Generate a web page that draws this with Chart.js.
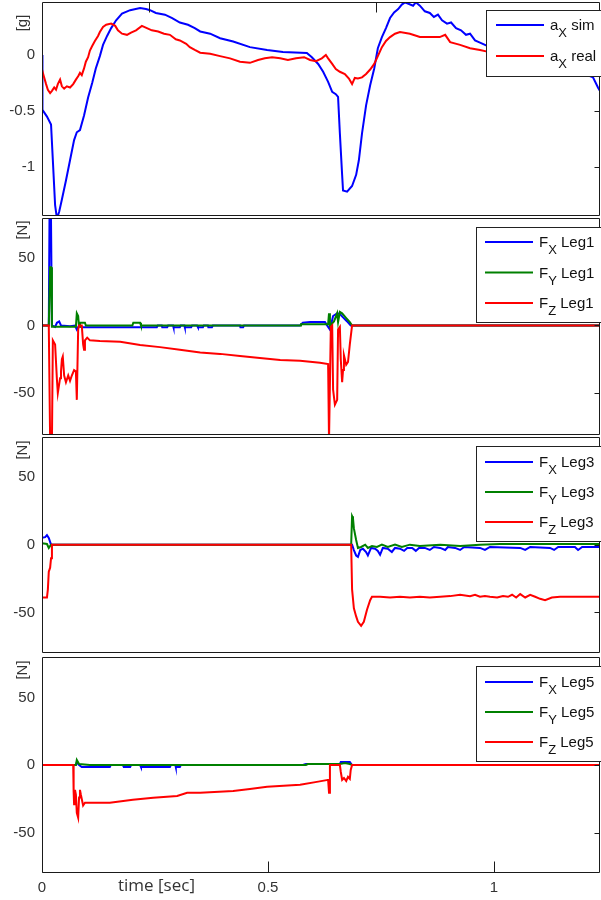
<!DOCTYPE html>
<html>
<head>
<meta charset="utf-8">
<script src="https://cdn.jsdelivr.net/npm/chart.js@4.4.1/dist/chart.umd.min.js"></script>
<style>
html, body { margin: 0; padding: 0; background: #fff; }
#wrap { position: relative; width: 601px; height: 900px; overflow: hidden; }
.pane { position: absolute; left: 0; width: 601px; }
canvas { display: block; }
</style>
</head>
<body>
<div id="wrap">
  <div class="pane" style="top:0px"><canvas id="c1" width="601" height="217"></canvas></div>
  <div class="pane" style="top:217px"><canvas id="c2" width="601" height="219"></canvas></div>
  <div class="pane" style="top:436px"><canvas id="c3" width="601" height="219"></canvas></div>
  <div class="pane" style="top:655px"><canvas id="c4" width="601" height="245"></canvas></div>
</div>
<script>
// time axis [sec]
const xMax = 1.2345;
const xTicks = [0, 0.5, 1];
const topTicks1 = [0.237, 0.738];

// y ticks per panel
const yTicksAcc = [-1, -0.5, 0];
const yTicksForce = [-50, 0, 50];

// panel 1: acceleration [g]
const axSim = [[0,0],[0.001,-0.49],[0.011,-0.55],[0.020,-0.62],[0.024,-0.94],[0.029,-1.34],[0.033,-1.46],[0.038,-1.40],[0.044,-1.29],[0.053,-1.12],[0.062,-0.94],[0.071,-0.76],[0.077,-0.69],[0.084,-0.67],[0.093,-0.54],[0.102,-0.38],[0.111,-0.25],[0.119,-0.12],[0.128,-0.01],[0.135,0.09],[0.144,0.17],[0.153,0.24],[0.164,0.31],[0.177,0.37],[0.195,0.40],[0.217,0.42],[0.230,0.41],[0.239,0.40],[0.252,0.375],[0.272,0.36],[0.288,0.33],[0.305,0.29],[0.323,0.27],[0.338,0.24],[0.350,0.21],[0.372,0.19],[0.394,0.15],[0.423,0.12],[0.460,0.07],[0.498,0.045],[0.533,0.027],[0.586,0.018],[0.597,-0.02],[0.611,-0.08],[0.622,-0.15],[0.633,-0.24],[0.642,-0.33],[0.650,-0.35],[0.655,-0.375],[0.659,-0.70],[0.664,-1.07],[0.666,-1.21],[0.675,-1.22],[0.686,-1.17],[0.695,-1.07],[0.701,-0.94],[0.708,-0.70],[0.717,-0.45],[0.726,-0.27],[0.735,-0.12],[0.743,0.06],[0.752,0.16],[0.761,0.24],[0.770,0.33],[0.779,0.38],[0.788,0.41],[0.796,0.45],[0.803,0.47],[0.812,0.455],[0.821,0.44],[0.827,0.47],[0.836,0.44],[0.847,0.39],[0.858,0.375],[0.867,0.34],[0.876,0.36],[0.885,0.31],[0.896,0.28],[0.905,0.29],[0.916,0.24],[0.927,0.22],[0.938,0.18],[0.947,0.19],[0.958,0.13],[0.969,0.11],[0.980,0.09],[1.013,0.03],[1.058,-0.03],[1.102,-0.045],[1.168,-0.12],[1.219,-0.20],[1.230,-0.29],[1.237,-0.34]];
const axReal = [[0,-0.13],[0.004,-0.19],[0.009,-0.26],[0.013,-0.31],[0.018,-0.34],[0.022,-0.32],[0.027,-0.29],[0.031,-0.31],[0.035,-0.26],[0.040,-0.22],[0.044,-0.28],[0.049,-0.30],[0.055,-0.28],[0.062,-0.29],[0.069,-0.26],[0.075,-0.22],[0.080,-0.19],[0.084,-0.16],[0.088,-0.18],[0.093,-0.12],[0.097,-0.06],[0.102,-0.02],[0.106,0.04],[0.111,0.08],[0.117,0.125],[0.124,0.17],[0.128,0.205],[0.135,0.25],[0.142,0.27],[0.153,0.28],[0.162,0.26],[0.168,0.22],[0.177,0.19],[0.188,0.18],[0.197,0.20],[0.208,0.22],[0.221,0.26],[0.232,0.24],[0.243,0.22],[0.257,0.21],[0.270,0.19],[0.283,0.18],[0.296,0.14],[0.305,0.13],[0.319,0.10],[0.327,0.07],[0.338,0.045],[0.350,0.02],[0.372,0.01],[0.394,-0.01],[0.416,-0.03],[0.438,-0.06],[0.460,-0.07],[0.478,-0.045],[0.493,-0.03],[0.509,-0.02],[0.527,-0.03],[0.544,-0.045],[0.562,-0.03],[0.580,-0.02],[0.593,-0.045],[0.606,-0.055],[0.619,-0.03],[0.628,0],[0.633,-0.03],[0.642,-0.08],[0.650,-0.125],[0.659,-0.15],[0.670,-0.17],[0.679,-0.21],[0.686,-0.26],[0.692,-0.205],[0.699,-0.21],[0.708,-0.20],[0.717,-0.17],[0.726,-0.13],[0.735,-0.08],[0.743,-0.01],[0.752,0.07],[0.761,0.125],[0.770,0.16],[0.781,0.19],[0.792,0.205],[0.814,0.19],[0.836,0.16],[0.858,0.16],[0.880,0.16],[0.892,0.18],[0.903,0.115],[0.925,0.09],[0.947,0.06],[0.969,0.045],[0.985,0.03],[1.058,-0.01],[1.146,-0.045],[1.237,-0.08]];

// panel 2: Leg1 forces [N]
const fxLeg1 = [[0,0],[0.015,0],[0.018,150],[0.022,0],[0.029,-1],[0.033,2],[0.038,3],[0.042,0],[0.062,-0.5],[0.073,0],[0.077,-3],[0.082,0],[0.088,-1.3],[0.254,-1.3],[0.256,0],[0.265,0],[0.266,-1.3],[0.277,-1.3],[0.279,0],[0.290,0],[0.291,-1.3],[0.305,-1.3],[0.307,0],[0.315,0],[0.316,-1.3],[0.330,-1.3],[0.332,0],[0.343,0],[0.345,-1.3],[0.356,-1.3],[0.358,0],[0.367,0],[0.368,-1.3],[0.376,-1.3],[0.378,0],[0.438,0],[0.439,-1.3],[0.445,-1.3],[0.447,0],[0.571,0],[0.577,2],[0.593,2.5],[0.626,2.5],[0.633,-1],[0.637,-3],[0.644,7],[0.653,9],[0.659,8.5],[0.666,6],[0.675,3],[0.683,0],[1.237,0]];
const fyLeg1 = [[0,0],[0.015,0],[0.018,43],[0.020,43],[0.022,-1],[0.075,-1],[0.077,9],[0.080,7],[0.082,-1],[0.084,2],[0.095,2],[0.097,0],[0.200,0],[0.202,2],[0.217,2],[0.219,0],[0.571,0],[0.573,1],[0.633,1],[0.635,9],[0.637,0],[0.646,3],[0.653,9],[0.655,2.5],[0.659,10],[0.664,9],[0.673,5.5],[0.681,2.5],[0.686,0],[1.237,0]];
const fzLeg1 = [[0,0],[0.015,0],[0.018,-85],[0.022,-85],[0.024,-11],[0.029,-14],[0.033,-40],[0.035,-50],[0.040,-39],[0.042,-34],[0.044,-25],[0.046,-23],[0.049,-37],[0.053,-42],[0.058,-37],[0.062,-41],[0.066,-37],[0.071,-33],[0.075,-34],[0.077,-55],[0.080,-3],[0.082,0],[0.088,0],[0.091,-14],[0.093,-18],[0.095,-11],[0.100,-9],[0.106,-11],[0.128,-11.5],[0.173,-12],[0.217,-14.5],[0.261,-16],[0.305,-18],[0.350,-20],[0.394,-21],[0.438,-22.5],[0.482,-24],[0.527,-25.5],[0.571,-26],[0.615,-27.5],[0.633,-28.5],[0.635,-85],[0.637,-85],[0.639,-1],[0.642,0],[0.644,-47.5],[0.648,-58.6],[0.653,-55],[0.655,-3],[0.659,-1],[0.661,-25],[0.664,-42],[0.666,-33],[0.668,-22],[0.673,-29],[0.677,-27],[0.681,-14],[0.686,0],[1.237,0]];

// panel 3: Leg3 forces [N]
const fxLeg3 = [[0,5],[0.007,5.5],[0.011,7],[0.015,5],[0.020,0],[0.686,0],[0.690,-4],[0.695,-8],[0.699,-9],[0.704,-4],[0.710,-3],[0.717,-5.4],[0.721,-8],[0.728,-2.4],[0.737,-3],[0.743,-4.6],[0.748,-7.5],[0.754,-2.4],[0.765,-3],[0.774,-5.4],[0.781,-2.4],[0.792,-3],[0.801,-4.6],[0.808,-2.4],[0.819,-2.4],[0.827,-4.6],[0.834,-2.4],[0.847,-2.4],[0.858,-3.9],[0.867,-1.7],[0.881,-2.4],[0.892,-3.9],[0.898,-1.7],[0.914,-2.4],[0.925,-3.9],[0.934,-1.7],[0.969,-2.4],[0.980,-3.9],[0.991,-1.7],[1.058,-2.4],[1.069,-3.9],[1.080,-1.7],[1.124,-2.4],[1.133,-3.9],[1.142,-1.7],[1.179,-1.7],[1.186,-3.9],[1.195,-1.7],[1.237,-1.7]];
const fyLeg3 = [[0,1],[0.011,0.5],[0.015,-2.4],[0.020,0],[0.684,0],[0.686,21],[0.688,19.5],[0.690,12],[0.695,3.5],[0.699,-2.4],[0.706,-1.7],[0.715,0],[0.721,-2.4],[0.730,-1],[0.741,-1.7],[0.752,0],[0.765,-1.7],[0.781,0],[0.796,-1.7],[0.814,0],[0.836,-1],[0.881,0],[0.925,-1],[0.969,0],[1.013,0.5],[1.237,0.5]];
const fzLeg3 = [[0,-39],[0.011,-39],[0.013,-33],[0.015,-20],[0.018,-17],[0.020,-10],[0.022,0],[0.684,0],[0.686,-33],[0.690,-47],[0.695,-53],[0.699,-57],[0.706,-60],[0.712,-57],[0.719,-48],[0.726,-41],[0.730,-38.5],[0.748,-38.5],[0.770,-39],[0.792,-38.5],[0.814,-39],[0.836,-38.5],[0.858,-39],[0.881,-38.5],[0.903,-38],[0.925,-37],[0.947,-38],[0.958,-37],[0.969,-38.5],[0.980,-38],[0.991,-38.5],[1.007,-39],[1.020,-38],[1.031,-38.5],[1.040,-37],[1.049,-39],[1.058,-36.5],[1.069,-39],[1.080,-37],[1.091,-38.5],[1.102,-40],[1.113,-41],[1.128,-39],[1.146,-38.5],[1.190,-38.5],[1.237,-38.5]];

// panel 4: Leg5 forces [N]
const fxLeg5 = [[0,0],[0.075,0],[0.077,2],[0.082,0],[0.088,-1.5],[0.150,-1.5],[0.152,0],[0.179,0],[0.181,-1.5],[0.195,-1.5],[0.197,0],[0.217,0],[0.219,-1.5],[0.283,-1.5],[0.285,0],[0.295,0],[0.296,-1.5],[0.305,-1.5],[0.307,0],[0.577,0],[0.584,0.7],[0.659,0.7],[0.661,2.2],[0.681,2.2],[0.686,0],[1.237,0]];
const fyLeg5 = [[0,0],[0.075,0],[0.077,3.7],[0.082,0.7],[0.106,0],[0.584,0],[0.588,0.7],[0.659,0.7],[0.670,1.5],[0.681,0.7],[0.686,0],[1.237,0]];
const fzLeg5 = [[0,0],[0.069,0],[0.070,-20],[0.071,-29],[0.073,-18.4],[0.075,-22],[0.077,-35.4],[0.080,-39],[0.082,-24],[0.084,-18.4],[0.086,-22],[0.091,-30],[0.095,-28],[0.106,-28],[0.150,-28],[0.201,-25.8],[0.246,-24.3],[0.299,-22.9],[0.321,-20.6],[0.350,-20.6],[0.423,-19.2],[0.460,-17.7],[0.498,-16.2],[0.571,-14.7],[0.608,-12.5],[0.633,-11],[0.635,-20.6],[0.637,0],[0.659,0],[0.661,-5],[0.664,-11],[0.668,-9.6],[0.673,-11.8],[0.677,-8.8],[0.681,-10.3],[0.683,-3.7],[0.686,0],[1.237,0]];

// legend labels: [main, subscript, rest]
const accLabels = [['a', 'X', ' sim'], ['a', 'X', ' real']];
const leg1Labels = [['F', 'X', ' Leg1'], ['F', 'Y', ' Leg1'], ['F', 'Z', ' Leg1']];
const leg3Labels = [['F', 'X', ' Leg3'], ['F', 'Y', ' Leg3'], ['F', 'Z', ' Leg3']];
const leg5Labels = [['F', 'X', ' Leg5'], ['F', 'Y', ' Leg5'], ['F', 'Z', ' Leg5']];

const BLUE = 'rgb(0,0,255)', GREEN = 'rgb(0,128,0)', RED = 'rgb(255,0,0)';
const FONT = "'Liberation Sans', Arial, sans-serif";
const TXT = '#333';

function series(pts, color, order) {
    return {
        data: pts.map(p => ({ x: p[0], y: p[1] })),
        borderColor: color,
        borderWidth: 2,
        pointRadius: 0,
        tension: 0,
        fill: false,
        order: order
    };
}

const framePlugin = {
    id: 'frame',
    afterDatasetsDraw(chart, args, o) {
        const ctx = chart.ctx, a = chart.chartArea;
        const L = Math.round(a.left) + 0.5, R = Math.round(a.right) - 0.5;
        const T = Math.round(a.top) + 0.5, B = Math.round(a.bottom) - 0.5;
        ctx.save();
        ctx.strokeStyle = '#1a1a1a';
        ctx.lineWidth = 1;
        ctx.beginPath();
        ctx.rect(L, T, R - L, B - T);
        chart.scales.y.ticks.forEach(t => {
            const py = Math.round(chart.scales.y.getPixelForValue(t.value)) + 0.5;
            ctx.moveTo(R - 5, py); ctx.lineTo(R, py);
        });
        (o.topTicks || []).forEach(v => {
            const px = Math.round(chart.scales.x.getPixelForValue(v)) + 0.5;
            ctx.moveTo(px, T); ctx.lineTo(px, T + 10);
        });
        (o.bottomTicks || []).forEach(v => {
            const px = Math.round(chart.scales.x.getPixelForValue(v)) + 0.5;
            ctx.moveTo(px, B); ctx.lineTo(px, B - 11);
        });
        ctx.stroke();

        // legend box
        const lg = o.legend;
        ctx.fillStyle = '#fff';
        ctx.fillRect(lg.x + 0.5, lg.y + 0.5, 620 - lg.x, lg.h);
        ctx.strokeStyle = '#222';
        ctx.strokeRect(lg.x + 0.5, lg.y + 0.5, 620 - lg.x, lg.h);
        lg.rows.forEach((r, i) => {
            const ly = lg.first + i * lg.step;
            ctx.strokeStyle = r.color;
            ctx.lineWidth = 2;
            ctx.beginPath();
            ctx.moveTo(lg.lineX, ly); ctx.lineTo(lg.lineX + 48, ly);
            ctx.stroke();
            ctx.fillStyle = '#111';
            ctx.textBaseline = 'alphabetic';
            ctx.textAlign = 'left';
            let x = lg.lineX + 54;
            ctx.font = '15px ' + FONT;
            ctx.fillText(r.label[0], x, ly + 5);
            x += ctx.measureText(r.label[0]).width;
            ctx.font = '13px ' + FONT;
            ctx.fillText(r.label[1], x, ly + 12);
            x += ctx.measureText(r.label[1]).width;
            ctx.font = '15px ' + FONT;
            ctx.fillText(r.label[2], x, ly + 5);
        });
        ctx.restore();
    },
    afterDraw(chart, args, o) {
        const ctx = chart.ctx;
        ctx.save();
        ctx.fillStyle = TXT;
        ctx.font = '15px ' + FONT;
        ctx.textAlign = 'center';
        ctx.textBaseline = 'middle';
        ctx.translate(23, o.titleY);
        ctx.rotate(-Math.PI / 2);
        ctx.fillText(o.title, 0, 0);
        ctx.restore();
        if (o.xTitle) {
            ctx.save();
            ctx.fillStyle = TXT;
            ctx.font = "17px 'Open Sans', sans-serif";
            ctx.textAlign = 'left';
            ctx.textBaseline = 'alphabetic';
            ctx.fillText(o.xTitle, 118, chart.chartArea.bottom + 18);
            ctx.restore();
        }
    }
};

function makePanel(id, datasets, yMin, yMax, yTicks, pad, frame, showX) {
    return new Chart(document.getElementById(id), {
        type: 'line',
        data: { datasets: datasets },
        options: {
            responsive: false,
            animation: false,
            events: [],
            layout: { padding: pad },
            plugins: {
                legend: { display: false },
                tooltip: { enabled: false },
                frame: frame
            },
            scales: {
                x: {
                    type: 'linear',
                    min: 0,
                    max: xMax,
                    display: showX,
                    afterBuildTicks: s => { s.ticks = xTicks.map(v => ({ value: v })); },
                    afterFit: s => {
                        s.height = showX ? 27 : 0;
                        s.paddingLeft = 0; s.paddingRight = 0;
                    },
                    grid: { display: false, drawTicks: false },
                    border: { display: false },
                    ticks: {
                        padding: 6,
                        maxRotation: 0,
                        autoSkip: false,
                        color: TXT,
                        font: { family: FONT, size: 15 },
                        callback: v => String(v)
                    }
                },
                y: {
                    min: yMin,
                    max: yMax,
                    afterBuildTicks: s => { s.ticks = yTicks.map(v => ({ value: v })); },
                    afterFit: s => {
                        s.width = 42;
                        s.paddingTop = 0; s.paddingBottom = 0;
                    },
                    grid: { display: false, drawTicks: false },
                    border: { display: false },
                    ticks: {
                        padding: 7,
                        color: TXT,
                        font: { family: FONT, size: 15 },
                        callback: v => String(v)
                    }
                }
            }
        },
        plugins: [framePlugin]
    });
}

makePanel('c1',
    [series(axSim, BLUE, 2), series(axReal, RED, 1)],
    -1.4375, 0.473, yTicksAcc,
    { top: 2, bottom: 1, left: 0, right: 1 },
    {
        title: '[g]', titleY: 23, topTicks: topTicks1,
        legend: { x: 486, y: 10, h: 66, lineX: 496, first: 25, step: 31,
            rows: [{ color: BLUE, label: accLabels[0] }, { color: RED, label: accLabels[1] }] }
    }, false);

makePanel('c2',
    [series(fxLeg1, BLUE, 3), series(fyLeg1, GREEN, 2), series(fzLeg1, RED, 1)],
    -81, 79.5, yTicksForce,
    { top: 1, bottom: 1, left: 0, right: 1 },
    {
        title: '[N]', titleY: 13,
        legend: { x: 476, y: 10, h: 95, lineX: 485, first: 25, step: 30.5,
            rows: [{ color: BLUE, label: leg1Labels[0] }, { color: GREEN, label: leg1Labels[1] }, { color: RED, label: leg1Labels[2] }] }
    }, false);

makePanel('c3',
    [series(fxLeg3, BLUE, 3), series(fyLeg3, GREEN, 2), series(fzLeg3, RED, 1)],
    -80, 79.5, yTicksForce,
    { top: 1, bottom: 2, left: 0, right: 1 },
    {
        title: '[N]', titleY: 14,
        legend: { x: 476, y: 10, h: 95, lineX: 485, first: 26, step: 30,
            rows: [{ color: BLUE, label: leg3Labels[0] }, { color: GREEN, label: leg3Labels[1] }, { color: RED, label: leg3Labels[2] }] }
    }, false);

makePanel('c4',
    [series(fxLeg5, BLUE, 3), series(fyLeg5, GREEN, 2), series(fzLeg5, RED, 1)],
    -80, 80, yTicksForce,
    { top: 2, bottom: 0, left: 0, right: 1 },
    {
        title: '[N]', titleY: 15, bottomTicks: xTicks, xTitle: 'time [sec]',
        legend: { x: 476, y: 11, h: 95, lineX: 485, first: 27, step: 30,
            rows: [{ color: BLUE, label: leg5Labels[0] }, { color: GREEN, label: leg5Labels[1] }, { color: RED, label: leg5Labels[2] }] }
    }, true);
</script>
</body>
</html>
